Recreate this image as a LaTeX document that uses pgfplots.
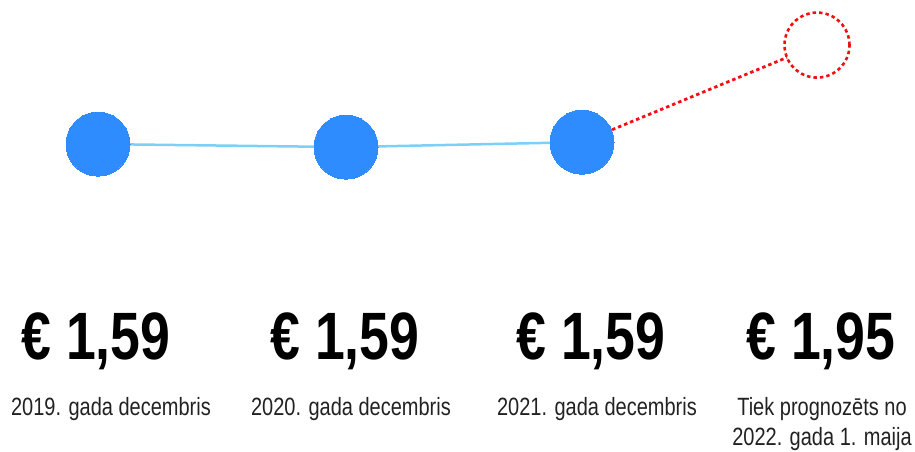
\documentclass[border=0pt]{standalone}
\usepackage{fontspec}
\setmainfont{Liberation Sans}[FakeStretch=0.8]
\usepackage{pgfplots}
\pgfplotsset{compat=1.18}

\definecolor{dotblue}{HTML}{2E8CFF}
\definecolor{lineblue}{HTML}{7CCFF7}
\definecolor{fcred}{HTML}{F01010}
\definecolor{labgray}{HTML}{222222}

\begin{document}
\begin{tikzpicture}
\useasboundingbox (0,0) rectangle (915bp,452bp);
\begin{axis}[
  at={(0,0)}, anchor=south west,
  scale only axis, width=915bp, height=452bp,
  axis lines=none, clip=false,
  xmin=0, xmax=915, ymin=0.470, ymax=2.114,
]
  % forecast segment
  \addplot[fcred, line width=2.8bp, dash pattern=on 3.5bp off 3bp]
    coordinates {(582,1.597) (817,1.950)};
  % history
  \addplot[lineblue, line width=2.5bp, mark=*, mark size=32bp,
    mark options={fill=dotblue, draw=dotblue, line width=0pt}]
    coordinates {(98,1.590) (346,1.579) (582,1.597)};
  % forecast point
  \addplot[draw=none, mark=*, mark size=32.5bp,
    mark options={fill=white, draw=fcred, line width=2.6bp, dash pattern=on 3.5bp off 3bp}]
    coordinates {(817,1.950)};
\end{axis}
\begin{scope}[x=1bp, y=-1bp, shift={(0,452bp)}]
  \foreach \x/\v in {96/1{,}59, 345/1{,}59, 591/1{,}59, 821/1{,}95}
    \node[anchor=base, inner sep=0pt, font=\fontsize{67bp}{70bp}\selectfont\bfseries]
      at (\x,360) {€ \v};
  \foreach \x/\t in {111/2019. gada decembris, 351/2020. gada decembris, 597/2021. gada decembris, 822/Tiek prognozēts no}
    \node[anchor=base, inner sep=0pt, text=labgray, font=\fontsize{25bp}{28bp}\selectfont]
      at (\x,416) {\t};
  \node[anchor=base, inner sep=0pt, text=labgray, font=\fontsize{25bp}{28bp}\selectfont]
    at (822,446) {2022. gada 1. maija};
\end{scope}
\end{tikzpicture}
\end{document}
